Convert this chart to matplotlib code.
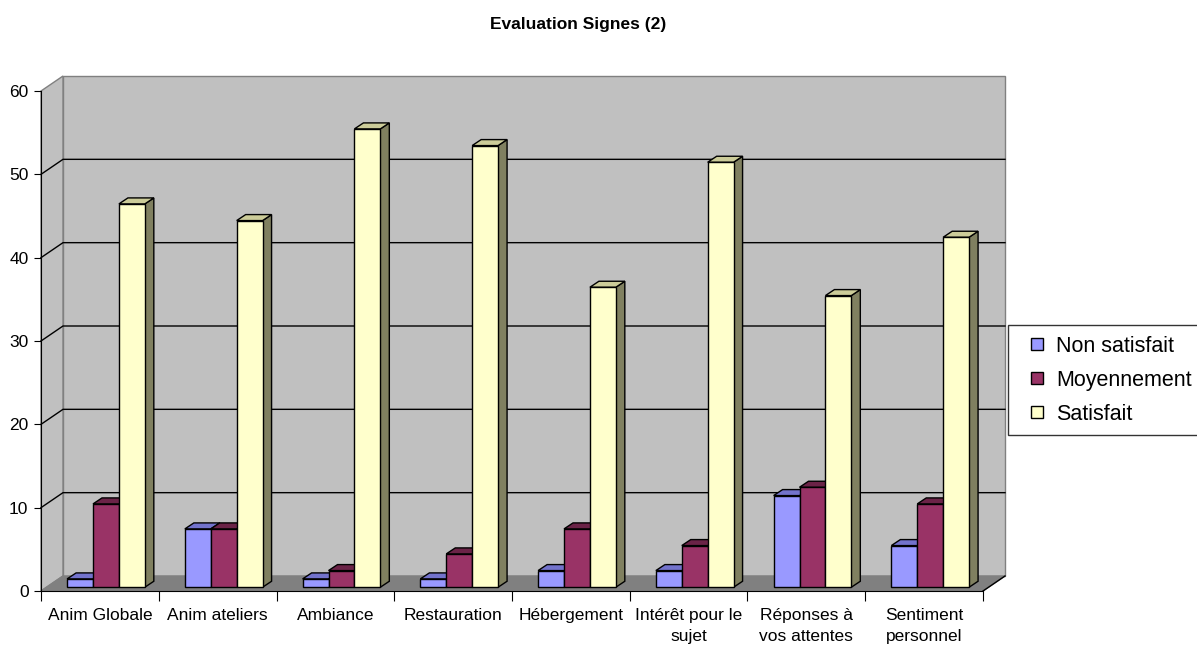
import matplotlib.pyplot as plt
from matplotlib.patches import Polygon
from matplotlib.lines import Line2D

plt.rcParams['font.family'] = ['Liberation Sans', 'DejaVu Sans']

categories = ['Anim Globale', 'Anim ateliers', 'Ambiance', 'Restauration',
              'Hébergement', 'Intérêt pour le\nsujet', 'Réponses à\nvos attentes',
              'Sentiment\npersonnel']
series = ['Non satisfait', 'Moyennement', 'Satisfait']
non_satisfait = [1, 7, 1, 1, 2, 2, 11, 5]
moyennement = [10, 7, 2, 4, 7, 5, 12, 10]
satisfait = [46, 44, 55, 53, 36, 51, 35, 42]

front = ['#9999FF', '#993366', '#FFFFCC']
tops = ['#7373CC', '#6B2347', '#CCCC99']
sides = ['#5C5C99', '#4D1933', '#808060']

fig = plt.figure(figsize=(11.97, 6.46), dpi=100)
W, H = 1197, 646
x0, x1, y0, y1 = 41, 983, 591, 91
ax = fig.add_axes([x0 / W, 1 - y0 / H, (x1 - x0) / W, (y0 - y1) / H])
n = len(categories)
ax.set_xlim(0, n)
ax.set_ylim(0, 60)

# pixel -> data scale for the fake depth
px_x = n / (x1 - x0)
px_y = 60 / (y0 - y1)
dx, dy = 22 * px_x, 15 * px_y          # full depth of the box
bdx, bdy = 9 * px_x, 6 * px_y          # depth of a bar
base_x, base_y = 0.25 * dx, 0.25 * dy  # bars sit a quarter into the floor

walls = dict(clip_on=False, linewidth=1, edgecolor='#808080')
ax.add_patch(Polygon([(0, 0), (n, 0), (n + dx, dy), (dx, dy)],
                     facecolor='#808080', zorder=1, **walls))
ax.add_patch(Polygon([(dx, dy), (n + dx, dy), (n + dx, 60 + dy), (dx, 60 + dy)],
                     facecolor='#C0C0C0', zorder=0, **walls))
ax.add_patch(Polygon([(0, 0), (dx, dy), (dx, 60 + dy), (0, 60)],
                     facecolor='#C0C0C0', zorder=0, **walls))
for v in range(10, 60, 10):
    ax.plot([0, dx, n + dx], [v, v + dy, v + dy], color='black', lw=1,
            clip_on=False, zorder=0.5)
ax.plot([n, n + dx], [0, dy], color='black', lw=1, clip_on=False, zorder=1.5)

bw = 0.22
z = 2
for j, vals in enumerate([non_satisfait, moyennement, satisfait]):
    lefts = [i + 0.175 + base_x + j * bw for i in range(n)]
    for xl, v in zip(lefts, vals):
        top = base_y + v
        ax.add_patch(Polygon([(xl + bw, base_y), (xl + bw + bdx, base_y + bdy),
                              (xl + bw + bdx, top + bdy), (xl + bw, top)],
                             facecolor=sides[j], edgecolor='black', lw=1,
                             zorder=z + j * 3, clip_on=False))
        ax.add_patch(Polygon([(xl, top), (xl + bw, top), (xl + bw + bdx, top + bdy),
                              (xl + bdx, top + bdy)],
                             facecolor=tops[j], edgecolor='black', lw=1,
                             zorder=z + j * 3 + 1, clip_on=False))
    ax.bar(lefts, vals, width=bw, bottom=base_y, align='edge', color=front[j],
           edgecolor='black', linewidth=1, zorder=z + j * 3 + 2, clip_on=False)

for s in ['top', 'right']:
    ax.spines[s].set_visible(False)
ax.spines['left'].set_zorder(20)
ax.spines['bottom'].set_zorder(20)
ax.set_yticks(range(0, 61, 10))
ax.tick_params(axis='y', length=5, labelsize=12.5, pad=4)
ax.set_xticks(range(n + 1))
ax.set_xticklabels([])
ax.tick_params(axis='x', which='major', length=7)
ax.set_xticks([i + 0.5 for i in range(n)], minor=True)
ax.set_xticklabels(categories, minor=True, fontsize=12.5, linespacing=1.5)
ax.tick_params(axis='x', which='minor', length=0, pad=12)

fig.text(578 / W, 1 - 24 / H, 'Evaluation Signes (2)', ha='center', va='center',
         fontsize=12.5, fontweight='bold')

handles = [Line2D([], [], linestyle='none', marker='s', markersize=8.5,
                  markerfacecolor=c, markeredgecolor='black', markeredgewidth=1)
           for c in front]
leg = fig.legend(handles, series, loc='upper left',
                 bbox_to_anchor=(1008 / W, 1 - 325 / H), fontsize=15.5,
                 frameon=True, fancybox=False, edgecolor='black',
                 handlelength=1.7, handletextpad=0.05,
                 borderpad=0.5, labelspacing=0.6, borderaxespad=0)
leg.get_frame().set_linewidth(1)

fig.savefig('out.png', dpi=100)
